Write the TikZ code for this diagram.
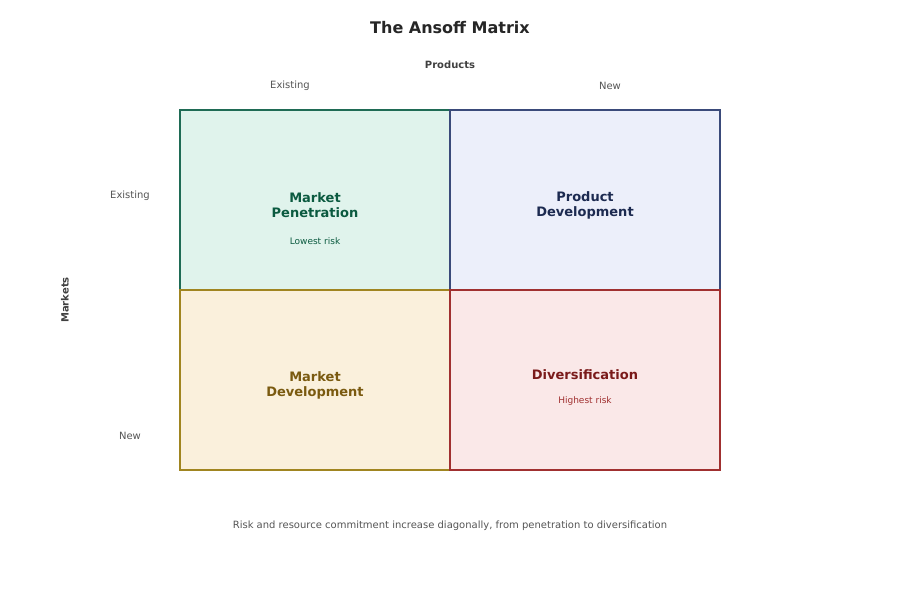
\documentclass[tikz,border=0pt]{standalone}
\usepackage{fontspec}
\setmainfont{DejaVu Sans}
\definecolor{pfill}{HTML}{E0F3EC}
\definecolor{pline}{HTML}{1F6B55}
\definecolor{ptext}{HTML}{0B5A40}
\definecolor{dfill}{HTML}{ECEFFA}
\definecolor{dline}{HTML}{3A4A7A}
\definecolor{dtext}{HTML}{1C2A50}
\definecolor{mfill}{HTML}{FAF0DC}
\definecolor{mline}{HTML}{A08520}
\definecolor{mtext}{HTML}{7A5A10}
\definecolor{xfill}{HTML}{FAE8E8}
\definecolor{xline}{HTML}{A03030}
\definecolor{xtext}{HTML}{7A1A1A}
\definecolor{grey}{HTML}{555555}
\begin{document}
\begin{tikzpicture}[x=1pt,y=-1pt,
	cell/.style={draw=#1line,fill=#1fill,line width=1.5pt,minimum width=270pt,minimum height=180pt,inner sep=0pt},
	quad/.style={font=\fontsize{13}{15}\selectfont\bfseries,align=center,text=#1text},
	note/.style={font=\fontsize{9}{11}\selectfont,text=#1text},
	axis/.style={font=\fontsize{10}{12}\selectfont,text=grey}]
	\useasboundingbox[fill=white] (0,0) rectangle (900,600);
	\node[font=\fontsize{16}{19}\selectfont\bfseries,text=black!85] (title) at (450,28) {The Ansoff Matrix};
	\node[axis,font=\fontsize{10}{12}\selectfont\bfseries,text=black!75] (products) at (450,65) {Products};
	\node[axis] (pexist) at (290,86) {Existing};
	\node[axis] (pnew) at (610,86) {New};
	\node[axis,font=\fontsize{10}{12}\selectfont\bfseries,text=black!75,rotate=90] (markets) at (65,300) {Markets};
	\node[axis] (mexist) at (130,196) {Existing};
	\node[axis] (mnew) at (130,436) {New};
	% quadrants
	\node[cell=p] (pen) at (315,200) {};
	\node[cell=d] (pdev) at (585,200) {};
	\node[cell=m] (mdev) at (315,380) {};
	\node[cell=x] (div) at (585,380) {};
	\node[quad=p] (penlabel) at (315,205) {Market\\Penetration};
	\node[note=p] (pennote) at (315,241) {Lowest risk};
	\node[quad=d] (pdevlabel) at (585,205) {Product\\Development};
	\node[quad=m] (mdevlabel) at (315,385) {Market\\Development};
	\node[quad=x] (divlabel) at (585,375) {Diversification};
	\node[note=x,text=xline] (divnote) at (585,401) {Highest risk};
	\node[axis] (caption) at (450,526) {Risk and resource commitment increase diagonally, from penetration to diversification};
\end{tikzpicture}
\end{document}
